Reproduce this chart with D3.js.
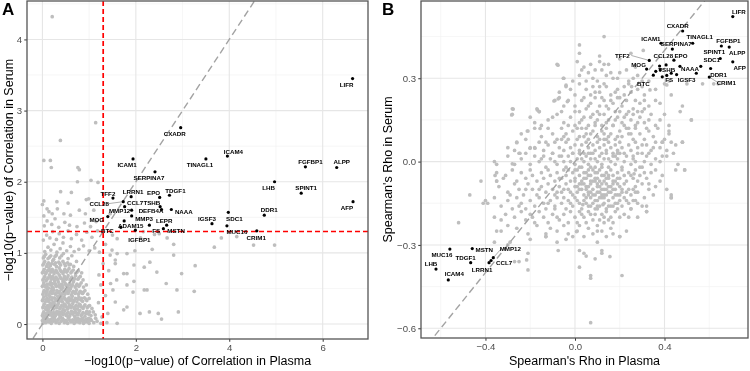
<!DOCTYPE html>
<html>
<head>
<meta charset="utf-8">
<script src="https://cdn.jsdelivr.net/npm/d3@7/dist/d3.min.js"></script>
<style>
  body { margin: 0; background: #fff; }
  svg { display: block; font-family: "Liberation Sans", Arial, Helvetica, sans-serif; will-change: transform; }
</style>
</head>
<body>
<div id="container"></div>
<script>
/* HIGHLIGHTED PROTEINS (same order in every array) */
const genes = ["LIFR","CXADR","ICAM4","TINAGL1","ICAM1","FGFBP1","ALPP","SERPINA7","LHB","SPINT1",
    "TDGF1","EPO","TFF2","LRRN1","AFP","CCL28","CCL7","TSHB","NAAA","SDC1",
    "DDR1","DEFB4A","MMP12","MMP3","MOG","IGSF3","LEPR","ADAM15","BTC","FS",
    "MSTN","MUC16","CRIM1","IGFBP1"]
const plasmaLogP = [6.64,2.96,3.96,3.50,1.94,5.63,6.30,2.41,4.97,5.54,
    2.72,2.51,1.51,1.90,6.65,1.73,1.76,2.52,2.76,3.98,
    4.75,2.55,1.91,1.91,1.40,3.63,2.66,1.75,1.68,2.29,
    2.59,3.95,4.59,1.99]
const serumLogP = [3.45,2.76,2.36,2.32,2.32,2.21,2.20,2.14,2.00,1.84,
    1.81,1.78,1.77,1.79,1.72,1.72,1.65,1.65,1.61,1.57,
    1.53,1.61,1.60,1.52,1.51,1.41,1.39,1.45,1.36,1.39,
    1.34,1.38,1.31,1.32]
const plasmaRho = [0.705,0.481,-0.566,0.526,0.384,0.654,0.689,0.435,-0.621,0.649,
    -0.466,0.442,0.332,-0.384,0.705,0.407,-0.375,0.41,0.469,0.562,
    0.606,0.378,-0.365,0.361,0.320,0.454,0.542,0.381,0.350,0.390,
    -0.459,-0.559,0.600,0.43]
const serumRho = [0.522,0.470,-0.426,0.426,0.426,0.416,0.412,0.405,-0.387,0.371,
    -0.364,0.365,0.364,-0.364,0.359,0.348,-0.356,0.31,0.343,0.343,
    0.335,0.344,-0.346,0.325,0.333,0.313,0.318,0.33,0.311,0.305,
    -0.313,-0.315,0.304,0.318]

/* ALL OTHER PROTEINS: [plasma, serum] */
const otherLogP = [
[.01,.01],[.04,.05],[.07,.02],[.1,.08],[.13,.03],[.16,.06],[.19,.01],[.23,.04],[.26,.09],[.29,.02],[.33,.06],[.36,.01],[.4,.04],[.43,.08],[.47,.02],[.5,.05],[.54,.01],[.57,.07],[.61,.03],[.65,.06],[.68,.01],[.72,.04],[.76,.08],[.8,.02],[.84,.05],[.88,.01],[.92,.06],[.96,.03],[1.0,.01],[1.05,.05],[1.1,.02],[1.17,.04],[1.25,.01],[.02,.09],[.2,.07],[.38,.09],[.55,.09],[.7,.09],[.86,.08],[.99,.08],
[.0,.05],[.06,.06],[.115,.04],[.175,.03],[.215,.06],[.275,.05],[.31,.04],[.345,.07],[.415,.05],[.455,.06],[.515,.04],[.59,.05],[.635,.04],[.705,.06],[.745,.03],[.785,.06],[.825,.07],[.865,.04],[.905,.03],[.945,.07],[.985,.05],[1.03,.07],[1.14,.08],
[.0,.12],[.03,.17],[.06,.11],[.09,.15],[.12,.19],[.15,.13],[.18,.17],[.21,.11],[.24,.16],[.28,.12],[.31,.18],[.34,.14],[.38,.11],[.41,.17],[.44,.13],[.48,.19],[.51,.12],[.55,.16],[.58,.11],[.62,.18],[.65,.14],[.69,.11],[.72,.16],[.76,.13],[.8,.19],[.83,.12],[.87,.16],[.91,.11],[.95,.18],[.99,.14],[1.04,.12],[1.09,.17],[1.28,.1],[.1,.2],[.45,.2],[.7,.2],
[.015,.15],[.075,.14],[.135,.16],[.195,.14],[.255,.13],[.295,.15],[.355,.17],[.395,.15],[.465,.15],[.53,.15],[.6,.14],[.675,.16],[.74,.14],[.78,.16],[.85,.14],[.93,.15],[1.01,.17],[1.13,.13],
[.01,.23],[.04,.28],[.07,.21],[.11,.26],[.14,.22],[.17,.29],[.2,.24],[.24,.21],[.27,.27],[.3,.23],[.34,.29],[.37,.22],[.41,.26],[.44,.21],[.47,.28],[.51,.24],[.54,.21],[.58,.27],[.61,.23],[.65,.29],[.68,.22],[.72,.26],[.75,.21],[.79,.28],[.83,.24],[.87,.22],[.91,.27],[.96,.23],[1.01,.26],[1.06,.22],[.25,.3],[.55,.3],
[.025,.25],[.09,.24],[.155,.26],[.22,.27],[.285,.25],[.32,.26],[.39,.24],[.455,.25],[.495,.26],[.56,.24],[.635,.25],[.7,.24],[.77,.25],[.81,.27],[.89,.25],[.98,.25],
[.0,.33],[.03,.38],[.06,.31],[.1,.36],[.13,.32],[.16,.39],[.2,.34],[.23,.31],[.26,.37],[.3,.33],[.33,.39],[.36,.32],[.4,.36],[.43,.31],[.46,.38],[.5,.34],[.53,.31],[.57,.37],[.6,.33],[.64,.39],[.67,.32],[.71,.36],[.74,.31],[.78,.38],[.82,.34],[.86,.32],[.9,.37],[.95,.33],[1.0,.36],[.08,.4],[.4,.4],
[.015,.35],[.08,.34],[.145,.35],[.21,.37],[.28,.35],[.35,.36],[.42,.34],[.48,.36],[.55,.35],[.62,.35],[.69,.34],[.76,.35],[.84,.36],[.93,.35],
[.01,.42],[.04,.47],[.08,.43],[.11,.49],[.14,.41],[.18,.46],[.21,.43],[.24,.48],[.28,.42],[.31,.47],[.35,.44],[.38,.41],[.41,.49],[.45,.45],[.48,.42],[.52,.47],[.55,.43],[.59,.49],[.62,.41],[.66,.46],[.7,.43],[.73,.48],[.77,.42],[.81,.46],[.86,.43],[.91,.47],[.97,.42],[.2,.5],[.6,.5],
[.025,.45],[.095,.46],[.16,.44],[.23,.45],[.3,.44],[.365,.46],[.43,.43],[.5,.45],[.57,.46],[.64,.44],[.71,.45],[.79,.44],[.88,.45],
[.0,.53],[.03,.58],[.07,.52],[.1,.56],[.13,.51],[.17,.59],[.2,.54],[.23,.51],[.27,.57],[.3,.53],[.34,.59],[.37,.52],[.41,.56],[.44,.51],[.48,.58],[.51,.54],[.55,.51],[.58,.57],[.62,.53],[.66,.59],[.7,.52],[.74,.56],[.78,.53],[.83,.58],[.88,.52],[.94,.55],[.45,.6],
[.02,.55],[.085,.54],[.15,.56],[.215,.57],[.285,.55],[.355,.55],[.425,.54],[.495,.56],[.565,.55],[.64,.55],[.72,.54],[.8,.55],
[.01,.62],[.05,.67],[.08,.61],[.12,.65],[.15,.69],[.19,.63],[.22,.67],[.26,.61],[.29,.66],[.33,.62],[.36,.69],[.4,.64],[.44,.61],[.47,.67],[.51,.63],[.55,.68],[.59,.62],[.63,.66],[.67,.61],[.71,.68],[.76,.63],[.81,.67],[.87,.62],[1.21,.69],
[.03,.64],[.1,.63],[.17,.66],[.24,.64],[.31,.64],[.38,.66],[.46,.64],[.53,.65],[.61,.64],[.69,.64],[.78,.65],
[.0,.72],[.04,.77],[.07,.71],[.11,.75],[.14,.79],[.18,.73],[.21,.77],[.25,.71],[.29,.76],[.32,.72],[.36,.79],[.4,.74],[.44,.71],[.48,.77],[.52,.73],[.57,.78],[.61,.72],[.66,.76],[.71,.71],[.77,.75],[.84,.72],
[.02,.74],[.09,.73],[.16,.76],[.23,.74],[.3,.74],[.38,.76],[.46,.74],[.54,.75],[.63,.74],[.74,.73],
[.01,.83],[.05,.88],[.09,.81],[.13,.86],[.17,.82],[.22,.89],[.26,.84],[.3,.81],[.35,.87],[.39,.83],[.44,.88],[.49,.82],[.54,.86],[.6,.84],[.67,.81],[.73,.88],
[.03,.85],[.11,.84],[.2,.85],[.28,.86],[.37,.85],[.47,.85],[.57,.83],
[.02,.93],[.07,.98],[.12,.92],[.18,.96],[.24,.91],[.3,.97],[.37,.93],[.45,.99],[.55,.92],[.63,.96],
[.04,.95],[.15,.94],[.27,.95],[.41,.96],
[.05,1.02],[.12,1.08],[.18,1.04],[.25,1.12],[.31,1.01],[.38,1.06],[.44,1.14],[.52,1.03],[.6,1.09],[.68,1.02],[.78,1.05],[.88,1.1],[1.0,1.03],[1.12,1.07],[1.22,1.01],
[.02,1.18],[.09,1.25],[.16,1.21],[.22,1.3],[.3,1.19],[.36,1.27],[.45,1.22],[.55,1.31],[.62,1.2],[.73,1.26],[.84,1.18],[.95,1.29],[1.06,1.22],[1.18,1.31],
[.04,1.38],[.1,1.45],[.2,1.4],[.27,1.48],[.35,1.36],[.48,1.43],[.58,1.39],[.74,1.37],[.9,1.42],[1.03,1.37],[1.15,1.44],
[.03,1.52],[.14,1.58],[.21,1.55],[.32,1.62],[.46,1.55],[.6,1.53],[.79,1.6],[.92,1.55],[1.1,1.6],
[.0,1.68],[.03,1.73],[.1,1.62],[.31,1.72],[.39,1.86],[.55,1.7],[.94,1.75],[.99,1.76],[.62,1.85],
[.03,2.3],[.17,2.3],[.19,2.2],[.385,2.58],[.76,2.2],[.79,2.17],[.75,2.0],[1.04,2.02],[1.19,1.99],[1.14,2.83],[.21,4.32],
[1.35,1.12],[1.5,1.25],[1.6,1.2],[1.45,1.55],[2.4,1.26],[2.1,1.21],
[2.16,1.3],[2.35,1.05],[2.5,1.27],[2.67,1.21],[2.81,1.12],[2.98,.71],[3.27,.82],[3.25,.46],[2.88,.48],[2.91,.17],[2.55,.07],[2.29,.17],[2.18,.48],[2.18,.8],[1.96,.83],[1.96,.6],[1.94,.45],[2.81,.97],[3.68,1.08],[3.83,1.21],[4.52,1.11],[4.97,1.11],[4.16,1.23],[1.81,.99],[1.45,.97],[1.56,.9],[1.98,1.03],[2.3,.87],[2.45,.73],[2.65,.57],[2.24,.48],[2.48,.15],[1.59,.62],[1.81,.24],[2.09,.15],[1.28,.1],[1.6,.99],[1.81,.71],[1.51,.48],[1.74,.2],
[1.49,1.04],[1.56,.85],[1.74,.71],[1.46,.57],[1.81,.55],[1.56,.31],[1.6,.01],[1.4,.15],[1.35,.4],[1.42,.75],[1.3,.85],[1.25,.55],[1.2,.3],[1.38,.02]
]

const otherRho = [
[.02,.42],[.13,.45],[.25,.39],[.02,.39],[.11,.38],
[.01,.36],[.04,.34],[.11,.36],[.13,.35],[.15,.35],[-.08,.35],[.2,.37],[.27,.34],[.09,.33],[.23,.33],[.305,.4],
[.02,.31],[-.05,.3],[.06,.32],[.1,.29],[.14,.31],[.17,.3],[.2,.32],[.24,.29],[.28,.31],[.08,.3],[-.01,.29],[.12,.33],[.3,.29],
[.03,.33],[.07,.35],[.16,.32],[.19,.3],[.05,.29],[.26,.3],[.13,.28],[-.02,.26],[.09,.25],[.18,.25],[.27,.22],[.22,.24],[.04,.23],[-.05,.2],[.06,.2],[.14,.2],[.31,.19],[.28,.18],[.16,.22],[.11,.27],
[.02,.28],[-.04,.27],[.05,.26],[.08,.27],[.11,.25],[.14,.27],[.16,.24],[.19,.26],[.22,.27],[.25,.25],[.28,.26],[.31,.24],[.0,.24],[-.07,.25],[.12,.23],[.07,.24],[.2,.23],[.24,.28],
[-.09,.22],[-.07,.23],[-.03,.22],[.0,.2],[.03,.22],[.05,.19],[.07,.21],[.09,.23],[.11,.2],[.13,.22],[.15,.19],[.17,.21],[.19,.23],[.21,.2],[.23,.22],[.26,.19],[.29,.21],[.33,.2],[-.17,.19],[-.16,.18],[.02,.18],[.1,.18],[.18,.18],[.24,.18],[.36,.22],
[-.28,.19],[-.28,.17],[-.2,.16],[-.12,.15],[-.08,.17],[-.05,.14],[-.02,.16],[.0,.18],[.02,.14],[.04,.16],[.06,.13],[.08,.17],[.1,.15],[.12,.13],[.13,.17],[.15,.15],[.17,.13],[.19,.16],[.21,.14],[.23,.17],[.25,.15],[.27,.13],[.29,.16],[.31,.14],[.34,.17],[.38,.15],[.42,.13],[.52,.15],[-.15,.13],[.01,.12],[.09,.14],[.2,.18],
[-.1,.16],[-.06,.18],[.03,.15],[.07,.16],[.11,.17],[.14,.14],[.18,.15],[.22,.16],[.26,.17],[.3,.18],[.33,.15],[.36,.13],[.4,.17],[-.18,.14],[-.03,.13],[.05,.12],[.24,.12],[.28,.14],[.32,.12],[-.24,.1],
[-.26,.07],[-.21,.11],[-.18,.12],[-.15,.09],[-.12,.12],[-.1,.1],[-.08,.08],[-.06,.12],[-.04,.1],[-.03,.08],[-.01,.11],[.0,.13],[.02,.09],[.03,.12],[.05,.1],[.06,.08],[.08,.11],[.09,.13],[.1,.09],[.12,.11],[.13,.08],[.14,.12],[.16,.1],[.17,.13],[.18,.08],[.2,.11],[.21,.09],[.23,.12],[.24,.1],[.26,.08],[.27,.12],[.29,.1],[.31,.08],[.33,.11],[.35,.09],[.37,.12],[.39,.07],[.42,.1],[.48,.07],[.07,.1],[.15,.09],[.22,.13],
[-.22,.08],[-.13,.07],[-.05,.09],[.04,.09],[.13,.1],[.19,.09],[.25,.1],[.3,.06],[.35,.05],[.4,.08],[.44,.03],[-.27,.04],[-.15,.01],[-.06,.02],[.06,.03],[.18,.02],[.27,.0],[.33,.03],[.39,.02],[.43,.07],
[-.3,.05],[-.25,.03],[-.2,.05],[-.18,.05],[-.16,.07],[-.14,.04],[-.12,.06],[-.1,.03],[-.09,.07],[-.07,.05],[-.05,.04],[-.04,.07],[-.02,.05],[-.01,.03],[.0,.06],[.01,.08],[.02,.04],[.03,.06],[.04,.03],[.05,.07],[.06,.05],[.07,.03],[.08,.06],[.09,.04],[.1,.07],[.11,.05],[.12,.03],[.13,.06],[.14,.04],[.15,.07],[.16,.05],[.17,.03],[.18,.06],[.19,.04],[.2,.07],[.21,.05],[.22,.03],[.24,.06],[.25,.04],[.27,.07],[.28,.05],[.3,.03],[.32,.06],[.34,.04],[.36,.07],[.38,.05],[.41,.04],[.45,.06],[.26,.02],[.11,.08],[-.06,.08],[.14,.08],
[-.36,.0],[-.35,-.01],[-.3,.02],[-.27,-.01],[-.24,.01],[-.22,.03],[-.2,-.01],[-.18,.02],[-.16,.0],[-.14,.02],[-.13,-.02],[-.11,.01],[-.1,.03],[-.08,-.01],[-.07,.02],[-.05,.0],[-.04,-.02],[-.03,.02],[-.02,.0],[-.01,.03],[.0,-.01],[.01,.01],[.02,.03],[.03,-.02],[.04,.0],[.05,.02],[.06,-.01],[.07,.01],[.08,.03],[.09,-.02],[.1,.0],[.11,.02],[.12,-.01],[.13,.01],[.14,.03],[.15,-.02],[.16,.0],[.17,.02],[.18,-.01],[.19,.01],[.2,.03],[.21,-.02],[.22,.0],[.23,.02],[.25,-.01],[.26,.01],[.28,.03],[.29,-.02],[.31,.0],[.32,.02],[.34,-.01],[.36,.01],[.38,.0],[.41,.02],[.46,-.01],[.49,-.03],[.03,.01],[.09,.01],[.15,.01],[.07,-.02],[.19,.03],[-.09,.0],
[-.35,-.04],[-.35,-.07],[-.31,-.05],[-.28,-.03],[-.26,-.07],[-.24,-.04],[-.22,-.06],[-.2,-.03],[-.19,-.05],[-.17,-.07],[-.15,-.04],[-.14,-.06],[-.12,-.03],[-.11,-.05],[-.09,-.07],[-.08,-.04],[-.06,-.06],[-.05,-.03],[-.04,-.05],[-.02,-.07],[-.01,-.04],[.0,-.06],[.01,-.03],[.02,-.05],[.03,-.07],[.04,-.04],[.05,-.06],[.06,-.03],[.07,-.05],[.08,-.07],[.09,-.04],[.1,-.06],[.11,-.03],[.12,-.05],[.13,-.07],[.14,-.04],[.15,-.06],[.16,-.03],[.17,-.05],[.18,-.07],[.19,-.04],[.2,-.06],[.21,-.03],[.22,-.05],[.23,-.07],[.24,-.04],[.26,-.06],[.27,-.03],[.29,-.05],[.3,-.02],[.32,-.06],[.34,-.04],[.36,-.03],[.39,-.05],[.45,-.03],[.02,-.02],[.07,-.07],[.12,-.02],[.15,-.05],[.1,-.04],[.05,-.04],[-.03,-.03],[.17,-.07],[.08,-.03],[.13,-.05],[-.07,-.06],[.25,-.05],[.31,-.04],[.264,-.044],[.04,-.06],[.11,-.07],[.09,-.06],
[.0,-.03],[.06,-.05],[.14,-.06],[.19,-.06],[.28,-.07],[.33,-.08],[.38,-.07],[.41,-.1],[.35,-.12],[.31,-.13],[.26,-.14],[.2,-.12],[-.08,-.11],[-.16,-.1],[-.22,-.1],[-.29,-.12],[-.32,-.06],
[-.34,-.09],[-.3,-.11],[-.27,-.08],[-.25,-.1],[-.23,-.12],[-.21,-.08],[-.19,-.1],[-.17,-.12],[-.15,-.09],[-.13,-.11],[-.12,-.08],[-.1,-.1],[-.09,-.12],[-.07,-.09],[-.06,-.11],[-.04,-.08],[-.03,-.1],[-.01,-.12],[.0,-.09],[.01,-.11],[.02,-.08],[.03,-.1],[.04,-.12],[.05,-.09],[.06,-.11],[.07,-.08],[.08,-.1],[.09,-.12],[.1,-.09],[.11,-.11],[.12,-.08],[.13,-.1],[.14,-.12],[.15,-.09],[.16,-.11],[.17,-.08],[.18,-.1],[.19,-.12],[.2,-.09],[.21,-.11],[.22,-.08],[.24,-.1],[.25,-.12],[.27,-.09],[.28,-.11],[.3,-.08],[.33,-.1],[.36,-.09],[.43,-.12],[.02,-.1],[.06,-.09],[.1,-.11],[.14,-.08],[.08,-.12],[.12,-.1],[.16,-.09],[.04,-.08],[.18,-.12],[.11,-.09],[.09,-.07],[.13,-.12],[.15,-.11],[.07,-.11],[.05,-.1],[.03,-.08],[.01,-.09],[.17,-.1],[-.02,-.11],[.19,-.08],[.23,-.11],[.26,-.1],[.14,-.1],[.1,-.08],[.06,-.12],[.12,-.12],[.0,-.07],[.21,-.1],[-.05,-.1],
[-.41,-.15],[-.39,-.15],[-.36,-.13],[-.33,-.16],[-.3,-.14],[-.28,-.17],[-.26,-.13],[-.24,-.15],[-.22,-.17],[-.2,-.14],[-.18,-.16],[-.16,-.13],[-.14,-.15],[-.13,-.17],[-.11,-.14],[-.09,-.16],[-.08,-.13],[-.06,-.15],[-.04,-.17],[-.03,-.14],[-.01,-.16],[.0,-.13],[.02,-.15],[.03,-.17],[.04,-.14],[.06,-.16],[.07,-.13],[.08,-.15],[.09,-.17],[.1,-.14],[.11,-.16],[.12,-.13],[.13,-.15],[.14,-.17],[.15,-.14],[.16,-.16],[.17,-.13],[.18,-.15],[.19,-.17],[.2,-.14],[.21,-.16],[.22,-.13],[.24,-.15],[.25,-.17],[.27,-.14],[.3,-.16],[.32,-.18],[.43,-.13],[.27,-.11],[.05,-.13],[.01,-.14],[.09,-.14],[.13,-.13],[.15,-.16],[.11,-.13],[.07,-.16],[-.05,-.13],[.17,-.16],[.23,-.14],[.035,-.155],[.125,-.155],[-.02,-.15],
[.05,-.15],[.1,-.16],[.19,-.15],[.28,-.15],[-.12,-.15],[-.25,-.16],
[-.36,-.2],[-.33,-.21],[-.31,-.19],[-.27,-.2],[-.24,-.18],[-.22,-.21],[-.2,-.19],[-.18,-.22],[-.16,-.18],[-.14,-.2],[-.12,-.22],[-.1,-.19],[-.09,-.17],[-.07,-.21],[-.05,-.19],[-.03,-.22],[-.02,-.18],[.0,-.2],[.01,-.22],[.02,-.18],[.04,-.2],[.05,-.22],[.06,-.18],[.08,-.21],[.09,-.19],[.1,-.17],[.11,-.21],[.12,-.19],[.13,-.22],[.14,-.18],[.16,-.2],[.17,-.22],[.18,-.18],[.2,-.2],[.22,-.19],[.25,-.17],[.28,-.2],[.32,-.18],[.07,-.19],[.15,-.21],
[.03,-.19],[.13,-.2],[.24,-.2],[-.08,-.2],[-.19,-.2],
[-.35,-.25],[-.33,-.25],[-.3,-.23],[-.26,-.24],[-.21,-.26],[-.17,-.23],[-.13,-.27],[-.11,-.24],[-.08,-.25],[-.05,-.23],[-.03,-.26],[.01,-.25],[.02,-.23],[.04,-.27],[.06,-.24],[.08,-.26],[.1,-.23],[.12,-.25],[.14,-.27],[.16,-.24],[.2,-.27],[.23,-.25],[-.13,-.26],[.007,-.252],
[.1,-.25],[-.01,-.27],[.17,-.26],
[-.36,-.29],[-.3,-.3],[-.2,-.28],[-.13,-.27],[-.08,-.29],[-.04,-.28],[-.075,-.32],[.02,-.32],[.04,-.33],[.05,-.34],[.1,-.29],[.12,-.32],[.12,-.33],[.2,-.27],
[.07,-.58],[.21,-.41],[.07,-.41],[.07,-.42],[.09,-.35],[-.21,-.39],[-.21,-.33],[-.25,-.36],[-.27,-.36],[-.52,-.22],[-.47,-.12],[-.42,-.07],[-.4,-.14],[.156,-.342],[.02,-.38],[-.29,-.29],[-.35,-.07],[-.216,-.354],
[.48,.2],[.52,.15],[.48,.07],[.49,-.03],[.42,.11],[.39,.07],[.43,-.13],[.32,-.16],[.253,.27],[.41,.276],[.43,.24],[.38,.21],[.335,.258],
[.3,.27],[.33,.29],[.36,.26],[.4,.28],[.42,.29],[.5,.28],[.57,.28],[.62,.28],[.64,.28],[.31,.22],[.47,.18],
[-.076,.347],[-.052,.3],[-.04,.275],[-.094,.218],[-.075,.226],[-.034,.216],[-.168,.186],[-.16,.18],[-.276,.189],[-.283,.168],[-.156,.119],[-.213,.11],[-.26,.068],[-.201,.048],[-.179,.048],[-.246,.03],[-.28,-.008],[-.357,-.05]
]

/* AXIS TICKS */
const logTicksX = [0, 2, 4, 6]
const logTicksY = [0, 1, 2, 3, 4]
const rhoTicksX = [-0.4, 0.0, 0.4]
const rhoTicksY = [-0.6, -0.3, 0.0, 0.3]

/* LABEL PLACEMENT (pixel offsets from each dot, repel-like) */
const labelOffsetA = {
    LIFR:[-6,6], CXADR:[-6,6], ICAM4:[6,-5], TINAGL1:[-6,6], ICAM1:[-6,5.5], FGFBP1:[5,-5],
    ALPP:[5,-6], SERPINA7:[-6,6], LHB:[-6,6], SPINT1:[5,-6], TDGF1:[6,-5], EPO:[-6,-5],
    TFF2:[-5,-5], LRRN1:[2,-5], AFP:[-6,6], CCL28:[-24,2], CCL7:[10.5,-4.5], TSHB:[-8.3,-4.5],
    NAAA:[12.5,2], SDC1:[6,6], DDR1:[5,-5.5], DEFB4A:[-10.5,1.3], MMP12:[-12,0.6], MMP3:[12.5,3],
    MOG:[-11,3], IGSF3:[-5,-5.3], LEPR:[-2.5,-5], ADAM15:[6.6,5], BTC:[-13.5,2.8], FS:[6.7,5.7],
    MSTN:[12.7,2], MUC16:[10,6], CRIM1:[-0.6,6.2], IGFBP1:[4,9]
}
const labelOffsetB = {
    LIFR:[6,-5], CXADR:[-5,-6], ICAM4:[6,-6], TINAGL1:[7,-7], ICAM1:[-10,-5], FGFBP1:[7,-6],
    ALPP:[8,5], SERPINA7:[4,-6], LHB:[-5,-6], SPINT1:[-6,-7], TDGF1:[-5,-5.5], EPO:[7,-5],
    TFF2:[-27,-5], LRRN1:[-7,7], AFP:[7,6], CCL28:[-2.7,-9.7], CCL7:[13,2], TSHB:[0,-6],
    NAAA:[10,2], SDC1:[11,-7], DDR1:[8,6], MMP12:[17,-9], MOG:[-8,-5], IGSF3:[10,5],
    BTC:[-10,8], FS:[7,3], MSTN:[12,1], MUC16:[-8,5], CRIM1:[17,5]
}

const svg = d3.select("#container")
    .append("svg")
    .attr("width", 750)
    .attr("height", 371)

function ScatterPanel(config) {
    const x = d3.scaleLinear().domain(config.xDomain).range([config.left, config.right])
    const y = d3.scaleLinear().domain(config.yDomain).range([config.bottom, config.top])
    const g = svg.append("g")

    g.append("clipPath")
        .attr("id", config.id + "-clip")
        .append("rect")
        .attr("x", config.left)
        .attr("y", config.top)
        .attr("width", config.right - config.left)
        .attr("height", config.bottom - config.top)

    /* GRID LINES */
    g.selectAll(".minor-x")
        .data(config.minorX)
        .join("line")
        .attr("x1", d => x(d)).attr("x2", d => x(d))
        .attr("y1", config.top).attr("y2", config.bottom)
        .attr("stroke", "#f0f0f0").attr("stroke-width", 0.6)
    g.selectAll(".minor-y")
        .data(config.minorY)
        .join("line")
        .attr("x1", config.left).attr("x2", config.right)
        .attr("y1", d => y(d)).attr("y2", d => y(d))
        .attr("stroke", "#f0f0f0").attr("stroke-width", 0.6)
    g.selectAll(".major-x")
        .data(config.ticksX)
        .join("line")
        .attr("x1", d => x(d)).attr("x2", d => x(d))
        .attr("y1", config.top).attr("y2", config.bottom)
        .attr("stroke", "#e6e6e6").attr("stroke-width", 1.1)
    g.selectAll(".major-y")
        .data(config.ticksY)
        .join("line")
        .attr("x1", config.left).attr("x2", config.right)
        .attr("y1", d => y(d)).attr("y2", d => y(d))
        .attr("stroke", "#e6e6e6").attr("stroke-width", 1.1)

    const plot = g.append("g").attr("clip-path", `url(#${config.id}-clip)`)

    /* BACKGROUND POINTS */
    plot.selectAll(".bg")
        .data(config.others)
        .join("circle")
        .attr("cx", d => x(d[0]))
        .attr("cy", d => y(d[1]))
        .attr("r", 1.85)
        .attr("fill", "#bebebe")

    /* REFERENCE LINES */
    const lo = Math.min(config.xDomain[0], config.yDomain[0])
    const hi = Math.max(config.xDomain[1], config.yDomain[1])
    plot.append("line")
        .attr("x1", x(lo)).attr("y1", y(lo))
        .attr("x2", x(hi)).attr("y2", y(hi))
        .attr("stroke", "#a3a3a3")
        .attr("stroke-width", 1.4)
        .attr("stroke-dasharray", "7,4")

    if (config.cutoff) {
        plot.append("line")
            .attr("x1", x(config.cutoff)).attr("x2", x(config.cutoff))
            .attr("y1", config.top).attr("y2", config.bottom)
            .attr("stroke", "#ff0000").attr("stroke-width", 1.7)
            .attr("stroke-dasharray", "5,3")
        plot.append("line")
            .attr("x1", config.left).attr("x2", config.right)
            .attr("y1", y(config.cutoff)).attr("y2", y(config.cutoff))
            .attr("stroke", "#ff0000").attr("stroke-width", 1.7)
            .attr("stroke-dasharray", "5,3")
    }

    /* HIGHLIGHTED GENES */
    const hits = genes.map((name, i) => ({ name, px: config.xs[i], py: config.ys[i], off: config.offsets[name] }))
    const labelled = hits.filter(d => d.off)

    plot.selectAll(".seg")
        .data(labelled.filter(d => Math.hypot(d.off[0], d.off[1]) > 15))
        .join("line")
        .attr("x1", d => x(d.px) + d.off[0] + (d.off[0] < 0 ? 9 : -9))
        .attr("y1", d => y(d.py) + d.off[1])
        .attr("x2", d => x(d.px))
        .attr("y2", d => y(d.py))
        .attr("stroke", "#8c8c8c")
        .attr("stroke-width", 0.7)

    plot.selectAll(".hit")
        .data(hits)
        .join("circle")
        .attr("cx", d => x(d.px))
        .attr("cy", d => y(d.py))
        .attr("r", 1.6)
        .attr("fill", "#000")

    plot.selectAll(".lab")
        .data(labelled)
        .join("text")
        .attr("x", d => x(d.px) + d.off[0])
        .attr("y", d => y(d.py) + d.off[1])
        .attr("text-anchor", "middle")
        .attr("dominant-baseline", "central")
        .attr("font-size", 6.2)
        .attr("font-weight", "bold")
        .attr("fill", "#000")
        .text(d => d.name)

    /* AXES */
    const fmt = config.format
    const xAxis = g.append("g")
        .attr("transform", `translate(0, ${config.bottom})`)
        .call(d3.axisBottom(x).tickValues(config.ticksX).tickSize(2.75).tickPadding(2.5).tickFormat(fmt))
    const yAxis = g.append("g")
        .attr("transform", `translate(${config.left}, 0)`)
        .call(d3.axisLeft(y).tickValues(config.ticksY).tickSize(2.75).tickPadding(2.2).tickFormat(fmt))
    ;[xAxis, yAxis].forEach(ax => {
        ax.attr("font-family", null).attr("font-size", 9.6)
        ax.select(".domain").remove()
        ax.selectAll(".tick line").attr("stroke", "#333").attr("stroke-width", 1)
        ax.selectAll(".tick text").attr("fill", "#4d4d4d")
    })

    /* PANEL BORDER */
    g.append("rect")
        .attr("x", config.left).attr("y", config.top)
        .attr("width", config.right - config.left)
        .attr("height", config.bottom - config.top)
        .attr("fill", "none")
        .attr("stroke", "#555")
        .attr("stroke-width", 1.3)

    /* TITLES */
    g.append("text")
        .attr("x", (config.left + config.right) / 2)
        .attr("y", 364.5)
        .attr("text-anchor", "middle")
        .attr("font-size", 12.5)
        .attr("fill", "#000")
        .text(config.xTitle)
    g.append("text")
        .attr("transform", `translate(${config.yTitleX}, ${(config.top + config.bottom) / 2}) rotate(-90)`)
        .attr("text-anchor", "middle")
        .attr("font-size", 12.5)
        .attr("fill", "#000")
        .text(config.yTitle)
    g.append("text")
        .attr("x", config.tagX)
        .attr("y", 14.5)
        .attr("font-size", 17)
        .attr("font-weight", "bold")
        .attr("fill", "#000")
        .text(config.tag)
}

ScatterPanel({
    id: "pA", tag: "A", tagX: 2,
    left: 27, right: 368, top: 1, bottom: 339,
    xDomain: [-0.33, 6.97], yDomain: [-0.21, 4.54],
    ticksX: logTicksX, ticksY: logTicksY,
    minorX: [1, 3, 5], minorY: [0.5, 1.5, 2.5, 3.5, 4.5],
    format: d3.format("d"),
    xs: plasmaLogP, ys: serumLogP, others: otherLogP,
    offsets: labelOffsetA, cutoff: -Math.log10(0.05),
    xTitle: "\u2212log10(p\u2212value) of Correlation in Plasma",
    yTitle: "\u2212log10(p\u2212value) of Correlation in Serum",
    yTitleX: 12.5
})

ScatterPanel({
    id: "pB", tag: "B", tagX: 382,
    left: 421, right: 748, top: 1, bottom: 338,
    xDomain: [-0.688, 0.773], yDomain: [-0.635, 0.578],
    ticksX: rhoTicksX, ticksY: rhoTicksY,
    minorX: [-0.6, -0.2, 0.2, 0.6], minorY: [-0.45, -0.15, 0.15, 0.45],
    format: d3.format(".1f"),
    xs: plasmaRho, ys: serumRho, others: otherRho,
    offsets: labelOffsetB, cutoff: null,
    xTitle: "Spearman's Rho in Plasma",
    yTitle: "Spearman's Rho in Serum",
    yTitleX: 392
})
</script>
</body>
</html>
